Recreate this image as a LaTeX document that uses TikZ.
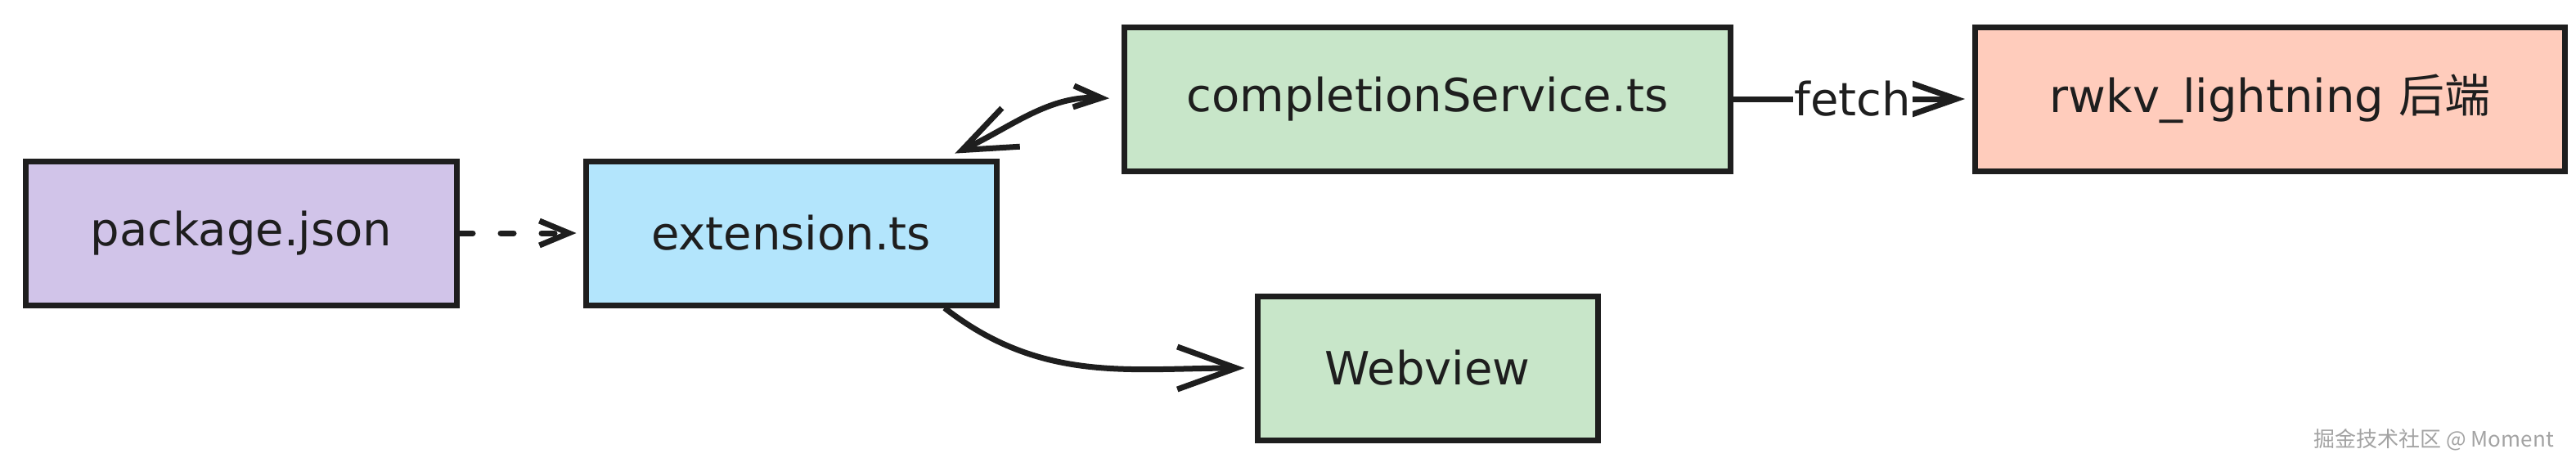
\documentclass[tikz,border=0pt]{standalone}
\usepackage{fontspec}
\setmainfont{DejaVu Sans}
\newfontfamily\cjkfont{Noto Sans CJK SC}
\usetikzlibrary{positioning,arrows.meta}

\definecolor{ink}{HTML}{1E1E1E}
\definecolor{pkgfill}{HTML}{D1C4E9}
\definecolor{extfill}{HTML}{B3E5FC}
\definecolor{srvfill}{HTML}{C8E6C9}
\definecolor{backfill}{HTML}{FFCCBC}
\definecolor{markgray}{HTML}{A3A3A3}

\begin{document}
\begin{tikzpicture}[->,shorten >=5pt,on grid,line width=3.5pt,draw=ink,
      >={Straight Barb[length=30pt,width=21pt]},
      box/.style={draw=ink,rectangle,minimum height=88pt,text=ink,
        font=\fontsize{28}{32}\selectfont}]
			\useasboundingbox (0,0) rectangle (1574.5pt,-285pt);
			\node[box,fill=pkgfill,minimum width=263.5pt] (pkg) at (147.5pt,-142.5pt) {package.json};
			\node[box,fill=extfill,minimum width=251pt] (ext) [right=336pt of pkg] {extension.ts};
			\node[box,fill=srvfill,minimum width=370.5pt] (srv) [above right=82pt and 389pt of ext] {completionService.ts};
			\node[box,fill=backfill,minimum width=360.5pt] (rwkv) [right=515pt of srv] {rwkv\_lightning {\cjkfont 后端}};
			\node[box,fill=srvfill,minimum width=208pt] (web) [below=164.5pt of srv] {Webview};
			\node[text=markgray,font=\cjkfont\fontsize{13}{15}\selectfont,anchor=east] (watermark) at (1566pt,-269pt) {掘金技术社区 @ Moment};
			\path
				(pkg) edge[dash pattern=on 8pt off 17pt,line cap=round,shorten >=4pt,
          >={Straight Barb[length=18pt,width=15pt]}] (ext)
				(ext.26) edge[{Straight Barb[length=33pt,width=26pt]}-{Straight Barb[length=17pt,width=13pt]},
          out=25,in=177,shorten <=7pt,shorten >=7.5pt] (srv.west)
				(srv) edge[shorten >=4.5pt] node[fill=white,text=ink,inner xsep=1pt,
          font=\fontsize{28}{32}\selectfont] {fetch} (rwkv)
				(ext.-26) edge[out=-38,in=180,shorten >=6pt,
          >={Straight Barb[length=36pt,width=26pt]}] (web.west);
		\end{tikzpicture}
\end{document}
